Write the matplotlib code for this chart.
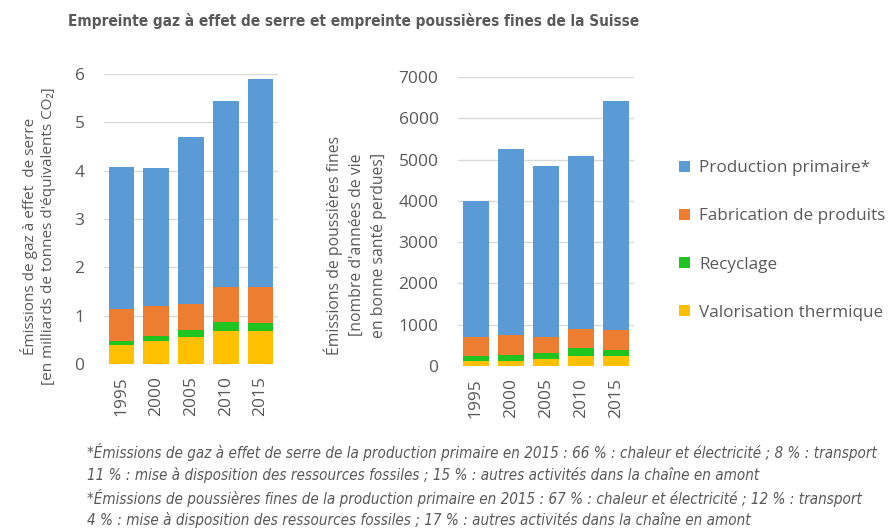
import matplotlib
matplotlib.use("Agg")
import matplotlib.pyplot as plt
from matplotlib.patches import Patch
from matplotlib import font_manager as fm
import numpy as np

years = ["1995", "2000", "2005", "2010", "2015"]
series = ["Valorisation thermique", "Recyclage", "Fabrication de produits", "Production primaire*"]
colors = ["#FFC000", "#1FC41F", "#ED7D31", "#5B9BD5"]

# Greenhouse gas footprint [billion t CO2-eq]
ghg_valorisation = [0.39, 0.475, 0.55, 0.675, 0.69]
ghg_recyclage = [0.085, 0.11, 0.16, 0.20, 0.165]
ghg_fabrication = [0.655, 0.625, 0.54, 0.725, 0.735]
ghg_primaire = [2.94, 2.84, 3.45, 3.85, 4.30]

# Fine particulate footprint [years of healthy life lost]
pm_valorisation = [120, 120, 160, 240, 250]
pm_recyclage = [130, 145, 145, 185, 140]
pm_fabrication = [460, 485, 390, 460, 485]
pm_primaire = [3275, 4510, 4145, 4195, 5545]

ghg_ticks = [0, 1, 2, 3, 4, 5, 6]
pm_ticks = [0, 1000, 2000, 3000, 4000, 5000, 6000, 7000]

title = "Empreinte gaz à effet de serre et empreinte poussières fines de la Suisse"
ylabel_left = "Émissions de gaz à effet  de serre\n[en milliards de tonnes d'équivalents CO₂]"
ylabel_right = "Émissions de poussières fines\n[nombre d'années de vie\nen bonne santé perdues]"
footnotes = [
    "*Émissions de gaz à effet de serre de la production primaire en 2015 : 66 % : chaleur et électricité ; 8 % : transport",
    "11 % : mise à disposition des ressources fossiles ; 15 % : autres activités dans la chaîne en amont",
    "*Émissions de poussières fines de la production primaire en 2015 : 67 % : chaleur et électricité ; 12 % : transport",
    "4 % : mise à disposition des ressources fossiles ; 17 % : autres activités dans la chaîne en amont",
]

TXT = "#595959"
GRID = "#D9D9D9"
W, H = 888, 528


def find_narrow(style, weight_bold):
    cands = []
    for f in fm.fontManager.ttflist:
        name = f.name.lower()
        stretch = str(f.stretch).lower()
        narrow = ("narrow" in name or "condensed" in name or "condensed" in stretch
                  or "narrow" in f.fname.lower() or "condensed" in f.fname.lower())
        if not narrow:
            continue
        if (f.style != "normal") != (style != "normal"):
            continue
        w = f.weight if isinstance(f.weight, int) else (700 if "bold" in str(f.weight) else 400)
        if (w >= 600) != weight_bold:
            continue
        cands.append(f.fname)
    return sorted(cands)[0] if cands else None


title_font = find_narrow("normal", True)
foot_font = find_narrow("italic", False)

fig = plt.figure(figsize=(W / 100, H / 100), dpi=100)
fig.patch.set_facecolor("white")


def px_axes(x0, x1, ytop, ybot):
    return fig.add_axes([x0 / W, 1 - ybot / H, (x1 - x0) / W, (ybot - ytop) / H])


def draw(ax, data, ticks):
    x = np.arange(len(years))
    bottom = np.zeros(len(years))
    for vals, c in zip(data, colors):
        ax.bar(x, vals, width=0.74, bottom=bottom, color=c, zorder=3)
        bottom = bottom + np.array(vals)
    ax.set_xlim(-0.5, len(years) - 0.5)
    ax.set_ylim(ticks[0], ticks[-1])
    ax.set_yticks(ticks)
    ax.set_yticklabels([str(t) for t in ticks])
    ax.set_xticks(x)
    ax.set_xticklabels(years, rotation=90)
    for s in ax.spines.values():
        s.set_visible(False)
    ax.grid(axis="y", color=GRID, lw=1, zorder=0)
    ax.tick_params(length=0, colors=TXT, labelsize=12.5)
    ax.tick_params(axis="y", pad=14)
    ax.tick_params(axis="x", pad=9)
    for lab in ax.get_xticklabels() + ax.get_yticklabels():
        lab.set_family("Open Sans")


ax1 = px_axes(104, 278, 74, 364)
draw(ax1, [ghg_valorisation, ghg_recyclage, ghg_fabrication, ghg_primaire], ghg_ticks)
ax2 = px_axes(458, 634, 77, 366)
draw(ax2, [pm_valorisation, pm_recyclage, pm_fabrication, pm_primaire], pm_ticks)

if title_font:
    tprops = dict(fontproperties=fm.FontProperties(fname=title_font, size=11))
else:
    tprops = dict(fontsize=10.5, fontweight="bold", family=["Liberation Sans", "DejaVu Sans"])
fig.text(68 / W, 1 - 21 / H, title, color=TXT, ha="left", va="center", **tprops)

fig.text(38 / W, 1 - 236 / H, ylabel_left, rotation=90, ha="center", va="center",
         fontsize=11, color=TXT, family=["Open Sans", "DejaVu Sans"], linespacing=1.25, multialignment="center")
fig.text(355 / W, 1 - 245 / H, ylabel_right, rotation=90, ha="center", va="center",
         fontsize=11.3, color=TXT, family=["Open Sans", "DejaVu Sans"], linespacing=1.5, multialignment="center")

handles = [Patch(facecolor=c, edgecolor="none") for c in colors[::-1]]
leg = fig.legend(handles, series[::-1], loc="upper left", bbox_to_anchor=(664 / W, 1 - 145 / H),
                 frameon=False, handlelength=0.6, handleheight=0.6, labelspacing=1.88,
                 handletextpad=0.55, prop={"family": "Open Sans", "size": 12.3})
for t in leg.get_texts():
    t.set_color(TXT)

ys = [452, 475, 498, 520]
for y, line in zip(ys, footnotes):
    if foot_font:
        fprops = dict(fontproperties=fm.FontProperties(fname=foot_font, size=10.9))
    else:
        fprops = dict(fontsize=10.3, style="italic", family=["Liberation Sans", "DejaVu Sans"])
    fig.text(87 / W, 1 - y / H, line, color=TXT, ha="left", va="center", **fprops)

fig.savefig("out.png", dpi=100)
